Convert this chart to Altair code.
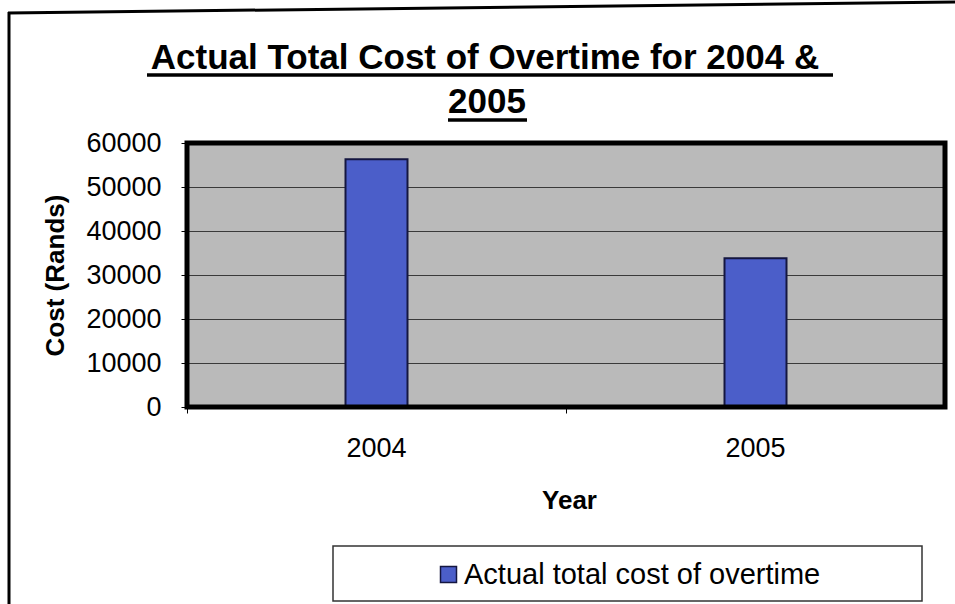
import altair as alt
import pandas as pd

# ---- data ----
years = ["2004", "2005"]
costs = [56300, 33800]
series_name = "Actual total cost of overtime"
y_ticks = [0, 10000, 20000, 30000, 40000, 50000, 60000]
title_line1 = "Actual Total Cost of Overtime for 2004 &"
title_line2 = "2005"

df = pd.DataFrame({"Year": years, "Cost": costs, "Series": [series_name] * len(years)})

FONT = "Liberation Sans, Arial, sans-serif"
W, H = 758, 264
BAR_FILL = "#4b5ec9"
BAR_STROKE = "#141640"

bars = alt.Chart(df).mark_bar(size=62, stroke=BAR_STROKE, strokeWidth=2).encode(
    x=alt.X(
        "Year:N",
        scale=alt.Scale(paddingInner=0, paddingOuter=0),
        axis=alt.Axis(
            title="Year",
            titleFont=FONT, titleFontSize=26, titleFontWeight="bold", titleColor="black",
            titleX=382, titleY=101, titleBaseline="alphabetic", titleAlign="center",
            labelFont=FONT, labelFontSize=27, labelColor="black", labelAngle=0,
            labelPadding=22, tickSize=6, tickColor="black", bandPosition=0,
            domain=False, grid=False,
        ),
    ),
    y=alt.Y(
        "Cost:Q",
        scale=alt.Scale(domain=[0, 60000], nice=False),
        axis=alt.Axis(
            title="Cost (Rands)",
            titleFont=FONT, titleFontSize=26, titleFontWeight="bold", titleColor="black",
            titleX=-124, titleY=132, titleAngle=270, titleAlign="center",
            titleBaseline="alphabetic",
            values=y_ticks, format="d",
            labelFont=FONT, labelFontSize=27, labelColor="black",
            labelPadding=20, tickSize=6, tickColor="black",
            domain=False, grid=True, gridColor="#3a3a3a", gridWidth=1,
        ),
    ),
    color=alt.Color(
        "Series:N",
        scale=alt.Scale(range=[BAR_FILL]),
        legend=alt.Legend(
            title=None, orient="none", legendX=247, legendY=417,
            symbolType="square", symbolSize=256, symbolStrokeColor=BAR_STROKE,
            symbolStrokeWidth=1.5, symbolFillColor=BAR_FILL,
            labelFont=FONT, labelFontSize=29, labelColor="black", labelOffset=1,
            labelLimit=1000, padding=0,
        ),
    ),
)

one = alt.Data(values=[{"k": 0}])

frame = alt.Chart(one).mark_rect(fillOpacity=0, stroke="black", strokeWidth=5).encode(
    x=alt.value(0), x2=alt.value(W), y=alt.value(0), y2=alt.value(H)
)

title1 = alt.Chart(one).mark_text(
    font=FONT, fontSize=35, fontWeight="bold", color="black", align="center", baseline="alphabetic"
).encode(x=alt.value(298), y=alt.value(-74.5), text=alt.value(title_line1))

title2 = alt.Chart(one).mark_text(
    font=FONT, fontSize=35, fontWeight="bold", color="black", align="center", baseline="alphabetic"
).encode(x=alt.value(300), y=alt.value(-30), text=alt.value(title_line2))

ul1 = alt.Chart(one).mark_rule(color="black", strokeWidth=3.5).encode(
    x=alt.value(-40), x2=alt.value(646), y=alt.value(-68)
)
ul2 = alt.Chart(one).mark_rule(color="black", strokeWidth=3.5).encode(
    x=alt.value(261), x2=alt.value(340), y=alt.value(-23)
)

outer_top = alt.Chart(one).mark_rule(color="black", strokeWidth=3).encode(
    x=alt.value(-179), y=alt.value(-130), x2=alt.value(768), y2=alt.value(-141)
)
outer_left = alt.Chart(one).mark_rule(color="black", strokeWidth=3).encode(
    x=alt.value(-178), y=alt.value(-131), y2=alt.value(470)
)

legend_box = alt.Chart(one).mark_rect(fill="white", stroke="#333333", strokeWidth=1.5).encode(
    x=alt.value(146), x2=alt.value(735), y=alt.value(403), y2=alt.value(458)
)

chart = alt.layer(
    bars, frame, title1, title2, ul1, ul2, outer_top, outer_left, legend_box
).properties(
    width=W, height=H,
    autosize=alt.AutoSizeParams(type="none"),
    padding={"left": 187, "top": 143, "right": 10, "bottom": 197},
    background="white",
).configure_view(
    fill="#bababa", stroke=None
)

chart.save("out.html", embed_options={"renderer": "svg", "actions": False})
